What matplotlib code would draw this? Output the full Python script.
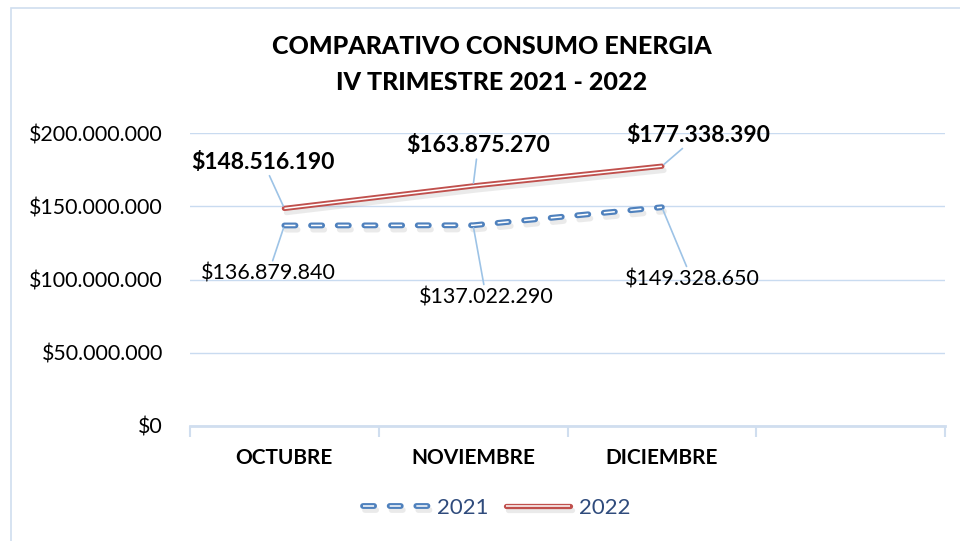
import matplotlib
matplotlib.use("Agg")
import matplotlib.pyplot as plt
import matplotlib.patheffects as pe
from matplotlib.patches import Rectangle
from matplotlib.legend_handler import HandlerTuple

plt.rcParams["font.family"] = ["Lato", "DejaVu Sans"]
plt.rcParams["lines.scale_dashes"] = False

meses = ["OCTUBRE", "NOVIEMBRE", "DICIEMBRE"]
consumo_2021 = [136879840, 137022290, 149328650]
consumo_2022 = [148516190, 163875270, 177338390]
y_ticks = [0, 50000000, 100000000, 150000000, 200000000]

# label offsets (pixels) from each point
off_2021 = [(-16, -48), (13, -72), (30, -72)]
off_2022 = [(-21, 46), (5, 40), (36, 31)]

BLUE = "#4F81BD"
RED = "#C0504D"
GRID = "#C9DBF0"
LEADER = "#9DC3E6"
DASH = (8, 11.2)


def money(v):
    return "$" + f"{v:,.0f}".replace(",", ".")


fig = plt.figure(figsize=(9.6, 5.41), dpi=100)
fig.patches.append(Rectangle((11 / 960, -0.1), 1.2, 1 - 8 / 541 + 0.1,
                             transform=fig.transFigure, fill=False,
                             edgecolor="#D0DEEF", linewidth=1.2))
ax = fig.add_axes([190 / 960, 115 / 541, 755 / 960, 293 / 541])

x = list(range(len(meses)))
shadow = [pe.SimpleLineShadow(offset=(1.5, -3), shadow_color="#777777", alpha=0.15),
          pe.Normal()]

b_out, = ax.plot(x, consumo_2021, color=BLUE, lw=4.2, dashes=DASH,
                 dash_capstyle="round", solid_capstyle="round", path_effects=shadow,
                 zorder=3)
b_in, = ax.plot(x, consumo_2021, color="white", lw=1.1, dashes=DASH,
                dash_capstyle="butt", zorder=4)
r_out, = ax.plot(x, consumo_2022, color=RED, lw=3.8, solid_capstyle="round",
                 path_effects=shadow, zorder=3)
r_in, = ax.plot(x, consumo_2022, color="white", lw=1.1, solid_capstyle="butt",
                zorder=4)

for xi, v, off in zip(x, consumo_2021, off_2021):
    ax.annotate(money(v), (xi, v), xytext=off, textcoords="offset pixels",
                ha="center", va="center", fontsize=15.5, color="black",
                arrowprops=dict(arrowstyle="-", color=LEADER, lw=1.2,
                                shrinkA=0, shrinkB=2))
for xi, v, off in zip(x, consumo_2022, off_2022):
    ax.annotate(money(v), (xi, v), xytext=off, textcoords="offset pixels",
                ha="center", va="center", fontsize=16.5, fontweight="bold",
                color="black",
                arrowprops=dict(arrowstyle="-", color=LEADER, lw=1.2,
                                shrinkA=0, shrinkB=2))

ax.set_xlim(-0.5, len(meses) + 0.5)
ax.set_ylim(0, 200000000)
ax.set_yticks(y_ticks)
ax.set_yticklabels([money(v) for v in y_ticks], fontsize=15.4)
ax.set_xticks(x)
ax.set_xticklabels(meses, fontsize=15, fontweight="bold")
ax.set_xticks([i - 0.5 for i in range(len(meses) + 2)], minor=True)
ax.tick_params(axis="x", which="major", length=0, pad=16)
ax.tick_params(axis="x", which="minor", length=8, width=1.5, color="#D0DEEF")
ax.tick_params(axis="y", length=0, pad=19.5)
ax.grid(axis="y", color=GRID, lw=1)
ax.set_axisbelow(True)
for s in ["top", "right", "left"]:
    ax.spines[s].set_visible(False)
ax.spines["bottom"].set_color("#D0DEEF")
ax.spines["bottom"].set_linewidth(2)

fig.text(492 / 960, 1 - 47 / 541, "COMPARATIVO CONSUMO ENERGIA",
         ha="center", va="center", fontsize=18, fontweight="black")
fig.text(492 / 960, 1 - 83 / 541, "IV TRIMESTRE 2021 - 2022",
         ha="center", va="center", fontsize=18, fontweight="black")

leg = fig.legend([(b_out, b_in), (r_out, r_in)], ["2021", "2022"],
                 handler_map={tuple: HandlerTuple(ndivide=1)},
                 loc="center", bbox_to_anchor=(497 / 960, 1 - 508 / 541),
                 ncol=2, frameon=False, fontsize=16, handlelength=2.9,
                 handletextpad=0.4, columnspacing=0.8)
for t in leg.get_texts():
    t.set_color("#2F4B7C")

fig.savefig("out.png", dpi=100)
